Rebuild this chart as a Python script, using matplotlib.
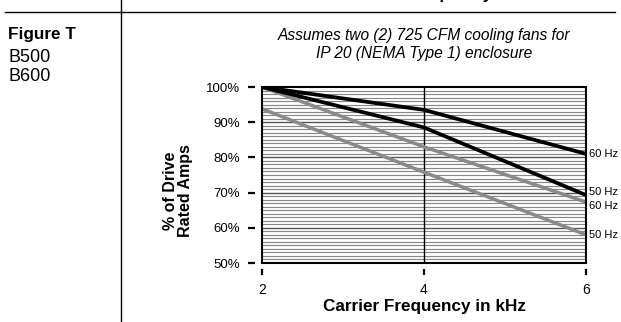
import matplotlib
matplotlib.use("Agg")
import matplotlib.pyplot as plt
from matplotlib.lines import Line2D
from matplotlib.patches import Rectangle

plt.rcParams['font.family'] = ['Liberation Sans', 'DejaVu Sans']

# data
freq_khz = [2, 4, 6]
black_60hz = [100, 93.5, 81]
black_50hz = [100, 88.5, 69.3]
gray_60hz = [100, 83, 67.3]
gray_50hz = [93.8, 75.8, 58]
series_labels = ["60 Hz", "50 Hz", "60 Hz", "50 Hz"]
yticks = [50, 60, 70, 80, 90, 100]
ytick_labels = ["50%", "60%", "70%", "80%", "90%", "100%"]
xticks = [2, 4, 6]

W, H = 621, 322
fig = plt.figure(figsize=(W / 100, H / 100), dpi=100)

# page layout lines
fig.add_artist(Line2D([5 / W, 615 / W], [1 - 12 / H, 1 - 12 / H], color='black', lw=1.0))
fig.add_artist(Line2D([121 / W, 121 / W], [0, 1], color='black', lw=1.0))
fig.text(492 / W, 1 + 1 / H, "Carrier Frequency", ha='right', va='baseline',
         fontsize=12, fontweight='bold')
fig.text(8 / W, 1 - 35 / H, "Figure T", ha='left', va='center', fontsize=12.3, fontweight='bold')
fig.text(8 / W, 1 - 57 / H, "B500", ha='left', va='center', fontsize=13)
fig.text(8 / W, 1 - 77 / H, "B600", ha='left', va='center', fontsize=13)

ax = fig.add_axes([262 / W, 1 - 263 / H, 324 / W, 176 / H])
ax.set_xlim(2, 6)
ax.set_ylim(50, 100)

# grid
for v in range(51, 100):
    major = (v % 10 == 0)
    ax.axhline(v, color='#555555' if major else '#888888', lw=1.0 if major else 0.85, zorder=1)
ax.axvline(4, color='black', lw=1.0, zorder=1)

ax.plot(freq_khz, gray_50hz, color='#8a8a8a', lw=2.5, zorder=3, solid_capstyle='butt')
ax.plot(freq_khz, gray_60hz, color='#8a8a8a', lw=2.5, zorder=3, solid_capstyle='butt')
ax.plot(freq_khz, black_50hz, color='black', lw=2.7, zorder=4, solid_capstyle='butt')
ax.plot(freq_khz, black_60hz, color='black', lw=2.7, zorder=4, solid_capstyle='butt')

ends = [black_60hz[-1], black_50hz[-1], gray_60hz[-1], gray_50hz[-1]]
offs = [0, 0.9, -1.0, 0]
for e, o, lab in zip(ends, offs, series_labels):
    ax.annotate(lab, xy=(6, e + o), xytext=(2, 0), textcoords='offset points',
                ha='left', va='center', fontsize=8, annotation_clip=False)

ax.add_patch(Rectangle((0, 0), 1, 1, transform=ax.transAxes, fill=False,
                       lw=1.5, edgecolor='black', zorder=6, clip_on=False))
for s in ax.spines.values():
    s.set_visible(False)
ax.spines['left'].set_position(('outward', 5))
ax.spines['bottom'].set_position(('outward', 4))
ax.set_yticks(yticks)
ax.set_yticklabels(ytick_labels)
ax.set_xticks(xticks)
ax.set_xticklabels([str(x) for x in xticks])
ax.tick_params(axis='y', direction='out', length=5, width=1.6, pad=6, labelsize=9.5)
ax.tick_params(axis='x', direction='out', length=4.5, width=1.6, pad=6, labelsize=10)

fig.text(424 / W, 1 - 44.5 / H, "Assumes two (2) 725 CFM cooling fans for\nIP 20 (NEMA Type 1) enclosure",
         ha='center', va='center', fontsize=11.2, style='italic', linespacing=1.25)
fig.text(424 / W, 1 - 307 / H, "Carrier Frequency in kHz", ha='center', va='center',
         fontsize=12.3, fontweight='bold')
fig.text(178 / W, 1 - 191 / H, "% of Drive\nRated Amps", ha='center', va='center',
         rotation=90, fontsize=11.5, fontweight='bold', linespacing=1.05)

fig.savefig("out.png", dpi=100)
